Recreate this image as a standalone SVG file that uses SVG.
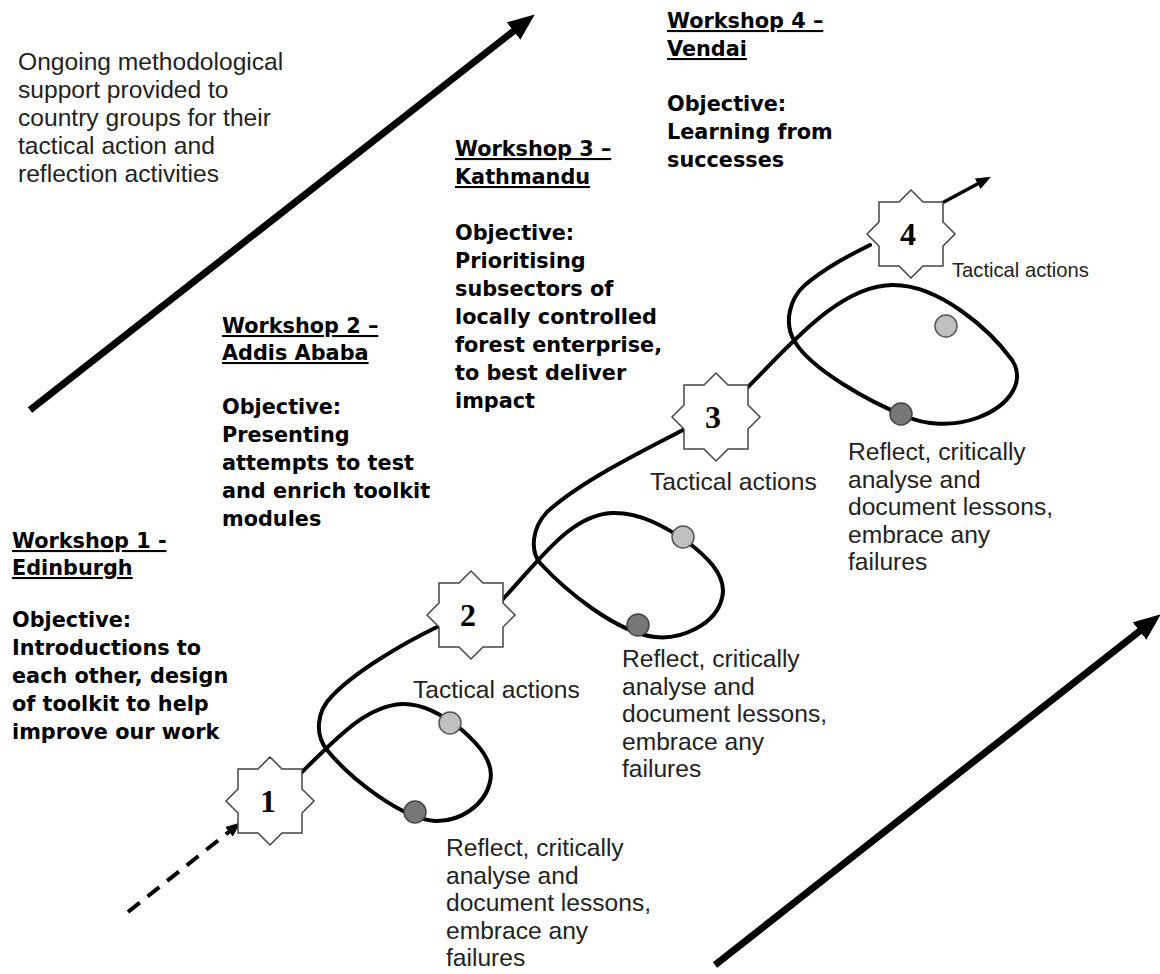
<svg xmlns="http://www.w3.org/2000/svg" width="1160" height="974" viewBox="0 0 1160 974">
<style>
.reg{font-family:"Liberation Sans",Arial,sans-serif;font-size:24.6px;fill:#222}
.small{font-size:20.2px}
.bold{font-family:"DejaVu Sans",Verdana,sans-serif;font-weight:bold;font-size:20.8px;fill:#000}
.ul{text-decoration:underline}
.path{fill:none;stroke:#000;stroke-width:4;stroke-linecap:round}
.big{fill:none;stroke:#000;stroke-width:7}
.star{fill:#fff;stroke:#444;stroke-width:1.5;stroke-linejoin:miter}
.num{font-family:"Liberation Serif","Times New Roman",serif;font-weight:bold;font-size:32px;fill:#000;text-anchor:middle}
.light{fill:#c0c0c0;stroke:#555;stroke-width:1.5}
.dark{fill:#777;stroke:#444;stroke-width:1.5}
</style>
<defs>
<marker id="bighead" markerUnits="userSpaceOnUse" markerWidth="28" markerHeight="24" refX="10" refY="11" orient="auto"><path d="M0,0 L27,11 L0,22 z" fill="#000"/></marker>
<marker id="smallhead" markerUnits="userSpaceOnUse" markerWidth="16" markerHeight="14" refX="6" refY="6" orient="auto"><path d="M0,0 L15,6 L0,12 z" fill="#000"/></marker>
<polygon id="starshape" class="star" points="0,-44 12,-32 32,-32 32,-12 44,0 32,12 32,32 12,32 0,44 -12,32 -32,32 -32,12 -44,0 -32,-12 -32,-32 -12,-32"/>
</defs>

<g id="connectors">
<line class="big" x1="30" y1="410" x2="521.4" y2="24.9" marker-end="url(#bighead)"/>
<line class="big" x1="715" y1="965" x2="1147.4" y2="624.9" marker-end="url(#bighead)"/>
<line x1="128" y1="912" x2="233.7" y2="828" stroke="#000" stroke-width="4" stroke-dasharray="15,10" marker-end="url(#smallhead)"/>
<path class="path" d="M302,772 C335,740 365,706 402,704 C425,703 447,718 462,730 C478,744 495,762 490,782 C485,805 460,822 435,821 C400,818 350,778 327,750 C315,735 316,712 332,696 C355,672 400,645 437,627"/>
<path class="path" d="M502,600 C540,560 570,515 612,513 C640,512 665,527 685,540 C705,555 728,575 722,598 C716,625 680,640 655,637 C615,632 565,590 540,563 C530,550 532,528 547,512 C580,482 640,452 683,430"/>
<path class="path" d="M748,387 C790,345 840,285 893,285 C940,285 990,330 1012,360 C1025,380 1012,405 977,418 C952,427 925,425 905,416 C870,402 812,370 795,342 C783,323 790,298 805,285 C825,268 848,256 870,245"/>
<line x1="942" y1="203" x2="983" y2="181" stroke="#000" stroke-width="3.5" marker-end="url(#smallhead)"/>
</g>

<g id="dots">
<circle class="light" cx="450" cy="723" r="11"/>
<circle class="dark" cx="415" cy="812" r="11"/>
<circle class="light" cx="683" cy="537" r="11"/>
<circle class="dark" cx="638" cy="625" r="11"/>
<circle class="light" cx="946" cy="326" r="11"/>
<circle class="dark" cx="901" cy="414" r="11"/>
</g>

<g id="star1"><use href="#starshape" x="270" y="801"/><text class="num" x="268" y="812">1</text></g>
<g id="star2"><use href="#starshape" x="471" y="615"/><text class="num" x="468" y="626">2</text></g>
<g id="star3"><use href="#starshape" x="716" y="417"/><text class="num" x="713" y="428">3</text></g>
<g id="star4"><use href="#starshape" x="911" y="234"/><text class="num" x="908" y="245">4</text></g>

<g id="support-text">
<text class="reg"><tspan x="18" y="70">Ongoing methodological</tspan><tspan x="18" y="98">support provided to</tspan><tspan x="18" y="126">country groups for their</tspan><tspan x="18" y="154">tactical action and</tspan><tspan x="18" y="182">reflection activities</tspan></text>
</g>

<g id="workshop1">
<text class="bold ul"><tspan x="12" y="548">Workshop 1 -</tspan><tspan x="12" y="575">Edinburgh</tspan></text>
<text class="bold"><tspan x="12" y="627">Objective:</tspan><tspan x="12" y="655">Introductions to</tspan><tspan x="12" y="683">each other, design</tspan><tspan x="12" y="711">of toolkit to help</tspan><tspan x="12" y="739">improve our work</tspan></text>
</g>

<g id="workshop2">
<text class="bold ul"><tspan x="222" y="333">Workshop 2 –</tspan><tspan x="222" y="360">Addis Ababa</tspan></text>
<text class="bold"><tspan x="222" y="414">Objective:</tspan><tspan x="222" y="442">Presenting</tspan><tspan x="222" y="470">attempts to test</tspan><tspan x="222" y="498">and enrich toolkit</tspan><tspan x="222" y="526">modules</tspan></text>
</g>

<g id="workshop3">
<text class="bold ul"><tspan x="455" y="156">Workshop 3 –</tspan><tspan x="455" y="184">Kathmandu</tspan></text>
<text class="bold"><tspan x="455" y="240">Objective:</tspan><tspan x="455" y="268">Prioritising</tspan><tspan x="455" y="296">subsectors of</tspan><tspan x="455" y="324">locally controlled</tspan><tspan x="455" y="352">forest enterprise,</tspan><tspan x="455" y="380">to best deliver</tspan><tspan x="455" y="408">impact</tspan></text>
</g>

<g id="workshop4">
<text class="bold ul"><tspan x="667" y="28">Workshop 4 –</tspan><tspan x="667" y="56">Vendai</tspan></text>
<text class="bold"><tspan x="667" y="111">Objective:</tspan><tspan x="667" y="139">Learning from</tspan><tspan x="667" y="167">successes</tspan></text>
</g>

<g id="tactical-labels">
<text class="reg" x="413" y="698">Tactical actions</text>
<text class="reg" x="650" y="490">Tactical actions</text>
<text class="reg small" x="952" y="277">Tactical actions</text>
</g>

<g id="reflect1">
<text class="reg"><tspan x="446" y="856">Reflect, critically</tspan><tspan x="446" y="883.5">analyse and</tspan><tspan x="446" y="911">document lessons,</tspan><tspan x="446" y="938.5">embrace any</tspan><tspan x="446" y="966">failures</tspan></text>
</g>
<g id="reflect2">
<text class="reg"><tspan x="622" y="667">Reflect, critically</tspan><tspan x="622" y="694.5">analyse and</tspan><tspan x="622" y="722">document lessons,</tspan><tspan x="622" y="749.5">embrace any</tspan><tspan x="622" y="777">failures</tspan></text>
</g>
<g id="reflect3">
<text class="reg"><tspan x="848" y="460">Reflect, critically</tspan><tspan x="848" y="487.5">analyse and</tspan><tspan x="848" y="515">document lessons,</tspan><tspan x="848" y="542.5">embrace any</tspan><tspan x="848" y="570">failures</tspan></text>
</g>
</svg>
